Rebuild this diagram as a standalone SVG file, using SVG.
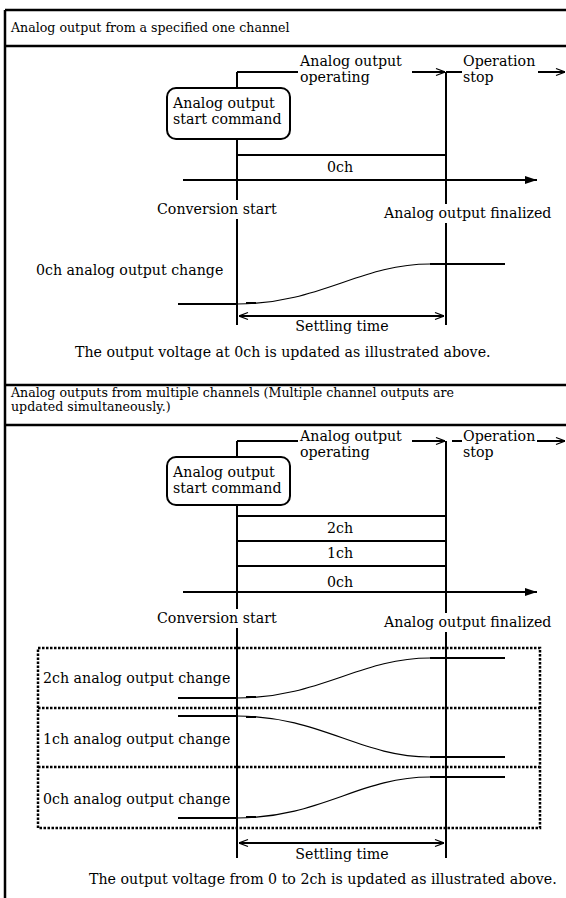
<svg xmlns="http://www.w3.org/2000/svg" width="566" height="898" viewBox="0 0 566 898">
<style>
text{font-family:"DejaVu Serif","Liberation Serif",serif;fill:#000}
.h{font-size:12.6px}
.l{font-size:14.2px}
.ln{stroke:#000;stroke-width:2;fill:none}
.tb{stroke:#000;stroke-width:2.5;fill:none}
.cv{stroke:#000;stroke-width:1.2;fill:none}
.dot{stroke:#000;stroke-width:2.5;fill:none;stroke-dasharray:2.5 1.5}
.bx{stroke:#000;stroke-width:2;fill:#fff}
.bg{fill:#fff}
</style>
<defs>
<marker id="oa" viewBox="0 0 10 10" refX="10" refY="5" markerWidth="10" markerHeight="10" markerUnits="userSpaceOnUse" orient="auto-start-reverse">
<path d="M1,1.5 L10,5 L1,8.5" fill="none" stroke="#000" stroke-width="1.3"/>
</marker>
<marker id="fa" viewBox="0 0 12 10" refX="12" refY="5" markerWidth="12" markerHeight="10" markerUnits="userSpaceOnUse" orient="auto">
<path d="M0,1 L12,5 L0,9 Z" fill="#000"/>
</marker>
</defs>

<g id="table">
<path class="tb" d="M5,10 V898 M5,10 H566 M5,46 H566 M5,385 H566 M5,425 H566"/>
</g>

<g id="header1"><text class="h" x="11" y="32">Analog output from a specified one channel</text></g>
<g id="header2">
<text class="h" x="11" y="397">Analog outputs from multiple channels (Multiple channel outputs are</text>
<text class="h" x="11" y="411">updated simultaneously.)</text>
</g>

<g id="connectors">
<!-- section 1 -->
<path class="ln" d="M237,72 H298"/>
<path class="ln" d="M412,72 H445" marker-end="url(#oa)"/>
<path class="ln" d="M446,72 H462"/>
<path class="ln" d="M538,72 H565" marker-end="url(#oa)"/>
<path class="ln" d="M237,72 V88 M237,139 V325"/>
<path class="ln" d="M446,72 V325"/>
<path class="ln" d="M237,155 H446"/>
<path class="ln" d="M183,180 H537" marker-end="url(#fa)"/>
<path class="ln" d="M178,304 H237 M246,303 H256 M430,264 H505"/>
<path class="cv" d="M237,304 C320,304 360,264 430,264"/>
<path class="ln" d="M239,316 H444" marker-start="url(#oa)" marker-end="url(#oa)"/>
<!-- section 2 -->
<path class="ln" d="M237,441 H298"/>
<path class="ln" d="M412,441 H445" marker-end="url(#oa)"/>
<path class="ln" d="M452,441 H462"/>
<path class="ln" d="M537,441 H565" marker-end="url(#oa)"/>
<path class="ln" d="M237,441 V457 M237,505 V858"/>
<path class="ln" d="M446,441 V858"/>
<path class="ln" d="M237,516 H446 M237,541 H446 M237,566 H446"/>
<path class="ln" d="M183,592 H537" marker-end="url(#fa)"/>
<path class="ln" d="M178,698 H237 M246,697 H256 M430,658 H505"/>
<path class="cv" d="M237,698 C320,698 360,658 430,658"/>
<path class="ln" d="M178,716 H237 M246,717 H256 M430,757 H505"/>
<path class="cv" d="M237,716 C320,716 360,757 430,757"/>
<path class="ln" d="M178,818 H237 M246,817 H256 M430,777 H505"/>
<path class="cv" d="M237,818 C320,818 360,777 430,777"/>
<path class="ln" d="M239,843 H444" marker-start="url(#oa)" marker-end="url(#oa)"/>
</g>

<g id="dotted-groups">
<rect class="dot" x="38" y="648" width="502" height="180"/>
<path class="dot" d="M38,708 H540 M38,767 H540"/>
</g>

<g id="s1-start-command">
<rect class="bx" x="167" y="88" width="123" height="51" rx="9"/>
<text class="l" x="173" y="108">Analog output</text>
<text class="l" x="173" y="124">start command</text>
</g>
<g id="s1-operating"><text class="l" x="300" y="66">Analog output</text><text class="l" x="300" y="82">operating</text></g>
<g id="s1-stop"><text class="l" x="463" y="66">Operation</text><text class="l" x="463" y="82">stop</text></g>
<g id="s1-0ch"><text class="l" x="340" y="172" text-anchor="middle">0ch</text></g>
<g id="s1-conv-start"><rect class="bg" x="155" y="200" width="125" height="19"/><text class="l" x="157" y="214">Conversion start</text></g>
<g id="s1-finalized"><rect class="bg" x="382" y="204" width="174" height="19"/><text class="l" x="384" y="218">Analog output finalized</text></g>
<g id="s1-change"><text class="l" x="36" y="275">0ch analog output change</text></g>
<g id="s1-settling"><text class="l" x="342" y="331" text-anchor="middle">Settling time</text></g>
<g id="s1-caption"><text class="l" x="75" y="357">The output voltage at 0ch is updated as illustrated above.</text></g>

<g id="s2-start-command">
<rect class="bx" x="167" y="457" width="123" height="48" rx="9"/>
<text class="l" x="173" y="477">Analog output</text>
<text class="l" x="173" y="493">start command</text>
</g>
<g id="s2-operating"><text class="l" x="300" y="441">Analog output</text><text class="l" x="300" y="457">operating</text></g>
<g id="s2-stop"><text class="l" x="463" y="441">Operation</text><text class="l" x="463" y="457">stop</text></g>
<g id="s2-channels">
<text class="l" x="340" y="533" text-anchor="middle">2ch</text>
<text class="l" x="340" y="558" text-anchor="middle">1ch</text>
<text class="l" x="340" y="587" text-anchor="middle">0ch</text>
</g>
<g id="s2-conv-start"><rect class="bg" x="155" y="609" width="125" height="19"/><text class="l" x="157" y="623">Conversion start</text></g>
<g id="s2-finalized"><rect class="bg" x="382" y="613" width="174" height="19"/><text class="l" x="384" y="627">Analog output finalized</text></g>
<g id="s2-2ch"><text class="l" x="43" y="683">2ch analog output change</text></g>
<g id="s2-1ch"><text class="l" x="43" y="744">1ch analog output change</text></g>
<g id="s2-0ch"><text class="l" x="43" y="804">0ch analog output change</text></g>
<g id="s2-settling"><text class="l" x="342" y="859" text-anchor="middle">Settling time</text></g>
<g id="s2-caption"><text class="l" x="89" y="884">The output voltage from 0 to 2ch is updated as illustrated above.</text></g>
</svg>
